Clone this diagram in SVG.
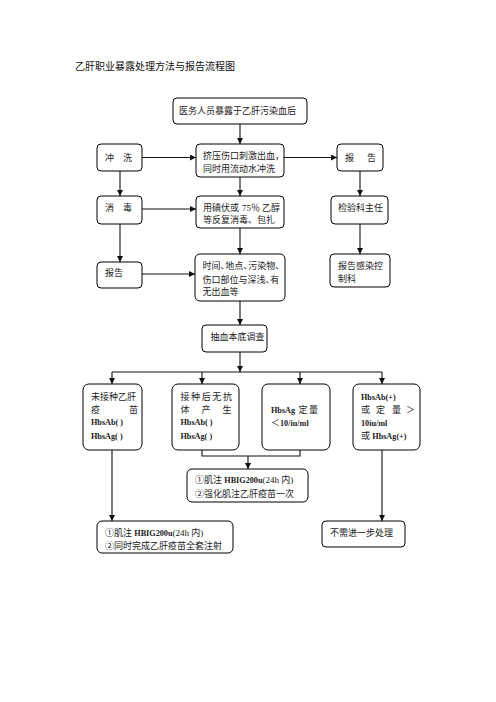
<svg xmlns="http://www.w3.org/2000/svg" width="496" height="702" viewBox="0 0 496 702">
<style>
.bg{fill:#fff}
.box{fill:#fff;stroke:#000;stroke-width:1}
.t{font-family:"Liberation Serif","Noto Sans CJK SC",serif;font-size:9px;fill:#222}
.b{font-weight:bold;font-size:8.2px}
.title{font-family:"Liberation Sans","Noto Sans CJK SC",sans-serif;font-size:10px;fill:#111}
.ln{fill:none;stroke:#111;stroke-width:1.1}
.ar{fill:none;stroke:#111;stroke-width:1.1;marker-end:url(#arr)}
</style>
<defs>
<marker id="arr" markerUnits="userSpaceOnUse" markerWidth="8" markerHeight="8" refX="6" refY="3" orient="auto">
<path d="M0,0 L6,3 L0,6 Z" fill="#111"/>
</marker>
</defs>
<rect class="bg" width="496" height="702"/>
<text class="title" x="75" y="70">乙肝职业暴露处理方法与报告流程图</text>

<g id="connectors">
<line class="ar" x1="240" y1="124" x2="240" y2="144"/>
<line class="ar" x1="142" y1="157.5" x2="196" y2="157.5"/>
<line class="ar" x1="284" y1="157.5" x2="337" y2="157.5"/>
<line class="ar" x1="120" y1="171" x2="120" y2="196"/>
<line class="ar" x1="240" y1="177" x2="240" y2="196"/>
<line class="ar" x1="360" y1="171" x2="360" y2="196"/>
<line class="ar" x1="142" y1="209" x2="196" y2="209"/>
<line class="ar" x1="120" y1="224" x2="120" y2="262"/>
<line class="ar" x1="240" y1="228" x2="240" y2="254"/>
<line class="ar" x1="360" y1="224" x2="360" y2="254"/>
<line class="ar" x1="142" y1="274" x2="195" y2="274"/>
<line class="ar" x1="240" y1="301" x2="240" y2="325"/>
<line class="ar" x1="240" y1="352" x2="240" y2="372"/>
<line class="ln" x1="112" y1="372" x2="382" y2="372"/>
<line class="ar" x1="112" y1="372" x2="112" y2="384"/>
<line class="ar" x1="202" y1="372" x2="202" y2="384"/>
<line class="ar" x1="300" y1="372" x2="300" y2="384"/>
<line class="ar" x1="382" y1="372" x2="382" y2="384"/>
<path class="ln" d="M202,450 V456 H300 V450"/>
<line class="ar" x1="248" y1="456" x2="248" y2="469"/>
<line class="ar" x1="112" y1="450" x2="112" y2="521"/>
<line class="ar" x1="382" y1="450" x2="382" y2="521"/>
</g>

<g id="n0"><rect class="box" x="173" y="98" width="134" height="26" rx="4"/>
<text class="t" x="179" y="114">医务人员暴露于乙肝污染血后</text></g>

<g id="n1"><rect class="box" x="97" y="144" width="45" height="27" rx="4"/>
<text class="t" x="105" y="160.5">冲</text><text class="t" x="123" y="160.5">洗</text></g>

<g id="n2"><rect class="box" x="196" y="144" width="88" height="33" rx="4"/>
<text class="t" x="203" y="158.5">挤压伤口刺激出血，</text>
<text class="t" x="203" y="171.5">同时用流动水冲洗</text></g>

<g id="n3"><rect class="box" x="337" y="144" width="46" height="27" rx="4"/>
<text class="t" x="345" y="160.5">报</text><text class="t" x="367" y="160.5">告</text></g>

<g id="n4"><rect class="box" x="97" y="196" width="45" height="28" rx="4"/>
<text class="t" x="105" y="210.5">消</text><text class="t" x="123" y="210.5">毒</text></g>

<g id="n5"><rect class="box" x="196" y="196" width="88" height="32" rx="4"/>
<text class="t" x="203" y="210.5">用碘伏或<tspan x="242">75％</tspan><tspan x="262">乙醇</tspan></text>
<text class="t" x="203" y="222.5">等反复消毒、包扎</text></g>

<g id="n6"><rect class="box" x="331" y="196" width="57" height="28" rx="4"/>
<text class="t" x="338" y="210.5">检验科主任</text></g>

<g id="n7"><rect class="box" x="97" y="262" width="45" height="26" rx="4"/>
<text class="t" x="105" y="275.5">报告</text></g>

<g id="n8"><rect class="box" x="195" y="254" width="90" height="47" rx="5"/>
<text class="t" x="202.5" y="269">时间、<tspan dx="-4.2">地点、</tspan><tspan dx="-4.2">污染物、</tspan></text>
<text class="t" x="202.5" y="282.5">伤口部位与深浅、<tspan dx="-4.2">有</tspan></text>
<text class="t" x="202.5" y="295">无出血等</text></g>

<g id="n9"><rect class="box" x="330" y="254" width="60" height="33" rx="4"/>
<text class="t" x="338" y="269">报告感染控</text>
<text class="t" x="338" y="282">制科</text></g>

<g id="n10"><rect class="box" x="202" y="325" width="65" height="27" rx="4"/>
<text class="t" x="210.5" y="340">抽血本底调查</text></g>

<g id="n11"><rect class="box" x="83" y="384" width="59" height="66" rx="6"/>
<text class="t" x="91" y="400">未接种乙肝</text>
<text class="t" x="91" y="412.5">疫<tspan x="129">苗</tspan></text>
<text class="t b" x="91" y="425">HbsAb( )</text>
<text class="t b" x="91" y="439">HbsAg( )</text></g>

<g id="n12"><rect class="box" x="172" y="384" width="67" height="66" rx="6"/>
<text class="t" x="180.5" y="400" letter-spacing="1.6">接种后无抗</text>
<text class="t" x="180.5" y="412.5">体<tspan x="201.5">产</tspan><tspan x="222.5">生</tspan></text>
<text class="t b" x="180.5" y="425">HbsAb( )</text>
<text class="t b" x="180.5" y="439">HbsAg( )</text></g>

<g id="n13"><rect class="box" x="262" y="384" width="68" height="66" rx="6"/>
<text class="t" x="271" y="413"><tspan class="b">HbsAg</tspan><tspan x="298.5">定</tspan><tspan x="309">量</tspan></text>
<text class="t" x="271" y="426">＜<tspan class="b">10/iu/ml</tspan></text></g>

<g id="n14"><rect class="box" x="353" y="384" width="67" height="66" rx="6"/>
<text class="t b" x="361" y="400">HbsAb(+)</text>
<text class="t" x="361" y="412.5">或<tspan x="376">定</tspan><tspan x="392">量</tspan><tspan x="406">＞</tspan></text>
<text class="t b" x="361" y="425.5">10iu/ml</text>
<text class="t" x="361" y="439">或 <tspan class="b">HbsAg(+)</tspan></text></g>

<g id="n15"><rect class="box" x="187" y="469" width="121" height="33" rx="5"/>
<text class="t" x="195" y="482.5">①肌注 <tspan class="b">HBIG200u</tspan>(24h 内)</text>
<text class="t" x="195" y="496.5">②强化肌注乙肝疫苗一次</text></g>

<g id="n16"><rect class="box" x="97" y="521" width="136" height="32" rx="5"/>
<text class="t" x="105" y="535.5">①肌注 <tspan class="b">HBIG200u</tspan>(24h 内)</text>
<text class="t" x="105" y="548.5">②同时完成乙肝疫苗全套注射</text></g>

<g id="n17"><rect class="box" x="322" y="521" width="83" height="26" rx="4"/>
<text class="t" x="330" y="535.5">不需进一步处理</text></g>
</svg>
